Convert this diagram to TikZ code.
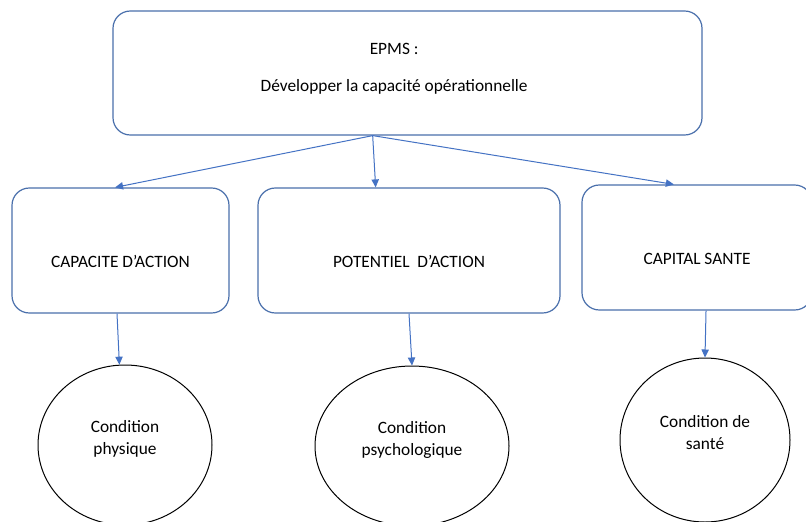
\documentclass[tikz,border=0pt]{standalone}
\usepackage{fontspec}
\setmainfont{Carlito}
\usetikzlibrary{arrows.meta, shapes.geometric, calc}
\definecolor{C_LINE}{HTML}{4A70AC}
\definecolor{C_ARR} {HTML}{4472C4}
\tikzset{
  %% -- rounded boxes (goal and axes) --
  EP/box/.style={
    draw=C_LINE, line width=0.9pt, rounded corners=13pt,
    fill=white, inner sep=0pt, align=center,
    font=\fontsize{13pt}{16.5pt}\selectfont
  },
  %% -- top goal box --
  EP/goal/.style={EP/box, minimum width=441.75pt, minimum height=93pt,
    text depth=9pt},
  %% -- axis boxes (text sits below the middle) --
  EP/axis/.style={EP/box, minimum height=93.75pt,
    text height=24.8pt, text depth=0pt},
  %% -- condition ellipses --
  EP/cond/.style={
    draw=black, line width=0.75pt, ellipse, inner sep=0pt,
    align=center, font=\fontsize{13pt}{16.5pt}\selectfont,
    text depth=12pt
  },
  %% -- connector arrow --
  EP/arr/.style={-{Triangle[length=6pt, width=5.5pt]}, line width=0.75pt, C_ARR},
}
%% goal text sits a little left of the box middle
\newcommand{\EPpad}{\hspace*{20pt}}

\begin{document}
\begin{tikzpicture}[x=0.75pt, y=-0.75pt]

%% page frame
\fill[white] (0,0) rectangle (806,521);
\useasboundingbox (0,0) rectangle (806,521);

%% Goal box
\node[EP/goal] (epms) at (407.5,73)
  {EPMS :\EPpad\\[11.25pt]Développer la capacité opérationnelle\EPpad};

%% Axis boxes
\node[EP/axis, minimum width=162.75pt] (capa) at (120.5,250.5)
  {CAPACITE D’ACTION};
\node[EP/axis, minimum width=226.5pt] (pote) at (409,250.5)
  {POTENTIEL\ \ D’ACTION};
\node[EP/axis, minimum width=172.5pt] (sant) at (697,247.5)
  {CAPITAL SANTE};

%% Condition ellipses
\node[EP/cond, minimum width=130.5pt, minimum height=120pt] (phys)
  at (125,445) {Condition\\physique};
\node[EP/cond, minimum width=145.5pt, minimum height=120pt] (psyc)
  at (412,446) {Condition\\psychologique};
\node[EP/cond, minimum width=127.5pt, minimum height=123pt] (hlth)
  at (705,440) {Condition de\\santé};

%% Goal -> axes (one fork point)
\coordinate (fork) at ($(epms.south west)!0.441!(epms.south east)$);
\draw[EP/arr] (fork) -- ($(capa.north west)!0.475!(capa.north east)$);
\draw[EP/arr] (fork) -- ($(pote.north west)!0.39!(pote.north east)$);
\draw[EP/arr] (fork) -- ($(sant.north west)!0.4!(sant.north east)$);

%% Axes -> conditions
\draw[EP/arr] ($(capa.south west)!0.484!(capa.south east)$) -- (phys.94);
\draw[EP/arr] (pote.south) -- (psyc.north);
\draw[EP/arr] ($(sant.south west)!0.539!(sant.south east)$) -- (hlth.north);

\end{tikzpicture}
\end{document}
